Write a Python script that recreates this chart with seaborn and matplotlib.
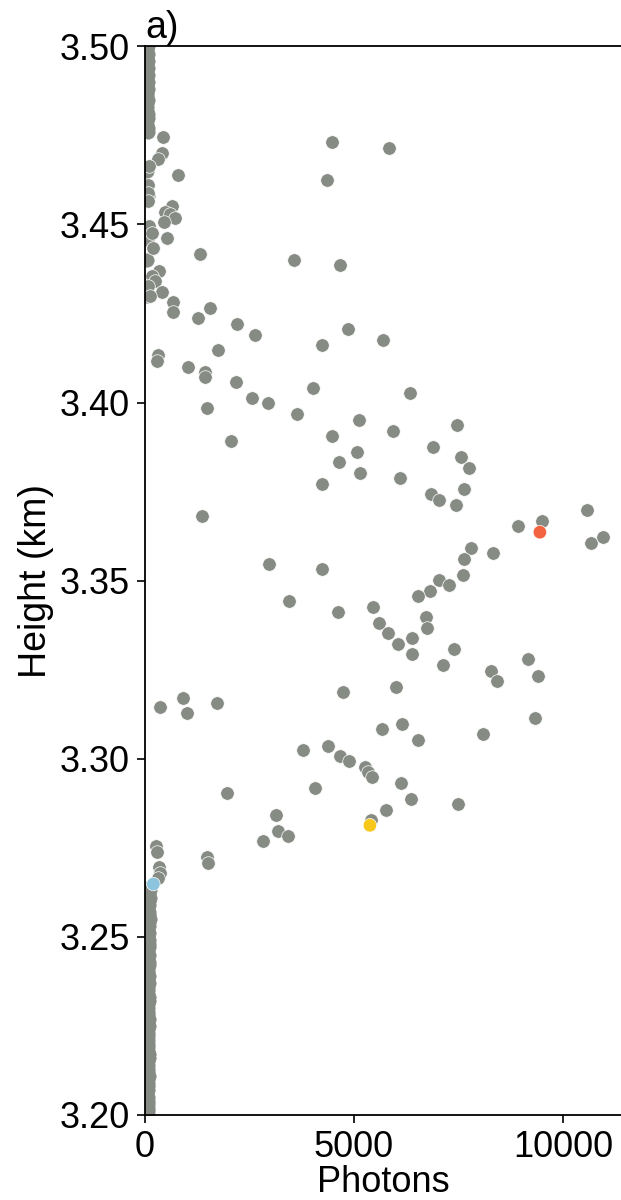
import matplotlib
matplotlib.use("Agg")
import matplotlib.pyplot as plt
import seaborn as sns
import pandas as pd
from matplotlib.ticker import FormatStrFormatter

# ---------------- data ----------------
# cloud-layer returns (photons, height km)
layer_photons = [
    423, 399, 319, 104, 797, 80, 80, 80, 638, 478, 600, 718, 454,
    104, 160, 534, 199, 1316, 343, 160, 239, 80, 399, 120, 662, 678,
    1555, 1276, 2208, 2631, 1754, 319, 295, 1037, 1435, 1435, 2177,
    2552, 2950, 1475, 2050, 4466, 5844, 4346, 3572, 4664, 4849, 4226,
    5690, 4019, 6339, 3644, 5126, 4466, 5078, 4649, 5143, 4226, 5925,
    7470, 6882, 7551, 7750, 6100, 6834, 7040, 7631, 7440, 10580, 8915,
    9504, 10668, 10948, 7790, 7631, 8317, 7599, 7033, 7272, 6817, 6538,
    1356, 2966, 4226, 3452, 4624, 5446, 5590, 5820, 6722, 6738, 6059,
    6394, 6378, 7391, 7136, 9154, 9408, 8276, 8412, 5996, 9329, 4729,
    359, 916, 997, 1730, 5662, 6140, 6538, 8077, 3772, 4385, 4664, 4880,
    5262, 5342, 5438, 4066, 1954, 6124, 6355, 5765, 7495, 3133, 3189,
    3428, 2830, 5406, 1475, 1500, 263, 279, 335, 359, 319,
]
layer_height = [
    3.4746, 3.4700, 3.4684, 3.4663, 3.4640, 3.4612, 3.4589, 3.4565, 3.4551, 3.4535, 3.4530, 3.4519, 3.4506,
    3.4495, 3.4477, 3.4462, 3.4433, 3.4416, 3.4370, 3.4355, 3.4341, 3.4327, 3.4310, 3.4299, 3.4282, 3.4253,
    3.4266, 3.4237, 3.4222, 3.4191, 3.4147, 3.4133, 3.4117, 3.4101, 3.4086, 3.4072, 3.4057,
    3.4012, 3.3998, 3.3984, 3.3892, 3.4731, 3.4715, 3.4626, 3.4401, 3.4386, 3.4206, 3.4161,
    3.4177, 3.4042, 3.4027, 3.3967, 3.3952, 3.3907, 3.3862, 3.3833, 3.3803, 3.3772, 3.3921,
    3.3937, 3.3876, 3.3847, 3.3817, 3.3788, 3.3742, 3.3727, 3.3756, 3.3711, 3.3697, 3.3652,
    3.3667, 3.3607, 3.3622, 3.3592, 3.3562, 3.3578, 3.3517, 3.3503, 3.3487, 3.3471, 3.3457,
    3.3682, 3.3548, 3.3532, 3.3442, 3.3412, 3.3426, 3.3382, 3.3354, 3.3398, 3.3368, 3.3322,
    3.3338, 3.3293, 3.3308, 3.3263, 3.3279, 3.3233, 3.3247, 3.3218, 3.3202, 3.3115, 3.3188,
    3.3144, 3.3171, 3.3129, 3.3157, 3.3083, 3.3097, 3.3053, 3.3069, 3.3023, 3.3037, 3.3008, 3.2994,
    3.2978, 3.2962, 3.2948, 3.2917, 3.2903, 3.2933, 3.2888, 3.2857, 3.2873, 3.2843, 3.2798,
    3.2784, 3.2768, 3.2829, 3.2723, 3.2707, 3.2756, 3.2738, 3.2695, 3.2679, 3.2665,
]

# clear-air background above and below the layer (photons, height km)
upper_photons = [60, 55, 70, 50, 65, 45, 60, 55, 70, 50, 60, 45, 65, 55, 50, 60, 45, 55,
                 50, 60, 65, 50, 55, 70, 60, 50, 45, 60, 55, 50, 60, 45]
upper_height = [3.500, 3.499, 3.498, 3.497, 3.496, 3.495, 3.494, 3.493, 3.492, 3.491,
                3.490, 3.489, 3.488, 3.487, 3.486, 3.485, 3.484, 3.483, 3.482, 3.481,
                3.480, 3.479, 3.478, 3.477, 3.476, 3.465, 3.461, 3.458, 3.446, 3.440,
                3.433, 3.430]
lower_photons = [70, 60, 75, 55, 80, 65, 70, 60, 85, 65, 70, 75, 60, 80, 70, 65, 90,
                 75, 70, 80, 65, 85, 70, 75, 95, 80, 70, 85, 90, 75, 100, 90, 110,
                 65, 70, 80, 60, 75, 85, 70, 65, 90, 80, 70, 75, 85, 95, 70, 80, 90,
                 75, 85, 100, 80, 90, 95, 85, 105, 90, 100, 110, 95, 105, 115, 120]
lower_height = [3.200, 3.202, 3.204, 3.206, 3.208, 3.210, 3.212, 3.214, 3.216, 3.218,
                3.220, 3.222, 3.224, 3.226, 3.228, 3.230, 3.232, 3.234, 3.236, 3.238,
                3.240, 3.242, 3.244, 3.246, 3.248, 3.250, 3.252, 3.254, 3.256, 3.258,
                3.260, 3.262, 3.264,
                3.201, 3.203, 3.205, 3.207, 3.209, 3.211, 3.213, 3.215, 3.217, 3.219,
                3.221, 3.223, 3.225, 3.227, 3.229, 3.231, 3.233, 3.235, 3.237, 3.239,
                3.241, 3.243, 3.245, 3.247, 3.249, 3.251, 3.253, 3.255, 3.257, 3.259,
                3.261, 3.263]

# highlighted points: layer base, peak, top
mark_label = ["base", "peak", "top"]
mark_photons = [200, 5382, 9449]
mark_height = [3.2648, 3.2813, 3.3636]
mark_colors = ["#8DC4DD", "#F7C81A", "#F46340"]

y_ticks = [3.20, 3.25, 3.30, 3.35, 3.40, 3.45, 3.50]
x_ticks = [0, 5000, 10000]

# ---------------- plot ----------------
sns.set_style("ticks")
plt.rcParams["font.family"] = ["Liberation Sans", "DejaVu Sans"]
plt.rcParams["text.color"] = "black"
plt.rcParams["axes.labelcolor"] = "black"

fig = plt.figure(figsize=(6.21, 12.0), dpi=100)
ax = fig.add_axes([0.2335, 0.0710, 0.7665, 0.8903])

gray = "#868B84"
bg = pd.DataFrame({"photons": upper_photons + lower_photons,
                   "height": upper_height + lower_height})
layer = pd.DataFrame({"photons": layer_photons, "height": layer_height})
marks = pd.DataFrame({"photons": mark_photons, "height": mark_height, "kind": mark_label})

kw = dict(s=95, legend=False, ax=ax)
sns.scatterplot(data=bg, x="photons", y="height", color=gray,
                edgecolor=gray, linewidth=0.3, **kw)
sns.scatterplot(data=layer, x="photons", y="height", color=gray,
                edgecolor="white", linewidth=0.5, **kw)
sns.scatterplot(data=marks, x="photons", y="height", hue="kind",
                palette=dict(zip(mark_label, mark_colors)), zorder=3,
                edgecolor="white", linewidth=0.5, **kw)

ax.set_xlim(0, 11390)
ax.set_ylim(3.20, 3.50)
ax.set_yticks(y_ticks)
ax.set_xticks(x_ticks)
ax.yaxis.set_major_formatter(FormatStrFormatter("%.2f"))

for side in ["left", "bottom", "top"]:
    ax.spines[side].set_visible(True)
    ax.spines[side].set_linewidth(1.3)
    ax.spines[side].set_color("black")
ax.spines["right"].set_visible(False)

ax.tick_params(axis="both", labelsize=26, length=6, width=1.2, pad=5,
               colors="black", labelcolor="black")
ax.set_xlabel("Photons", fontsize=26, labelpad=0, color="black")
ax.set_ylabel("Height (km)", fontsize=27, labelpad=4, color="black")
ax.set_title("a)", loc="left", fontsize=27, pad=2, color="black")

fig.savefig("out.png", dpi=100)
